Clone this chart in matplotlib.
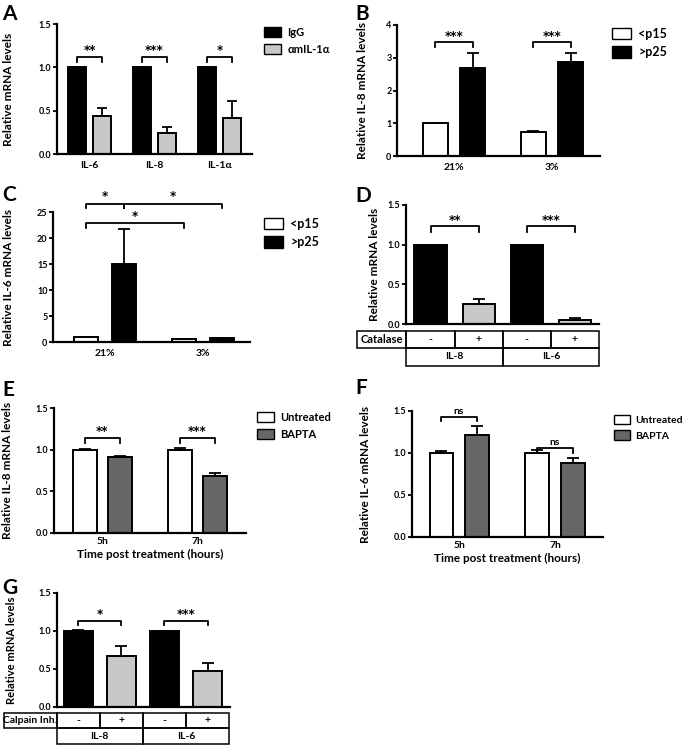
import numpy as np
import matplotlib
matplotlib.use("Agg")
import matplotlib.pyplot as plt
from matplotlib.patches import Patch, Rectangle

# ---- data ----
a_genes = ['IL-6', 'IL-8', 'IL-1α']
a_igg = [1.0, 1.0, 1.0]
a_igg_err = [0.0, 0.0, 0.0]
a_anti = [0.44, 0.24, 0.42]
a_anti_err = [0.09, 0.07, 0.19]
a_stars = ['**', '***', '*']

b_oxygen = ['21%', '3%']
b_young = [1.0, 0.72]
b_young_err = [0.0, 0.04]
b_old = [2.68, 2.88]
b_old_err = [0.47, 0.25]
b_stars = ['***', '***']

c_oxygen = ['21%', '3%']
c_young = [1.0, 0.5]
c_young_err = [0.0, 0.0]
c_old = [15.0, 0.7]
c_old_err = [6.7, 0.1]

d_catalase = ['-', '+', '-', '+']
d_genes = ['IL-8', 'IL-6']
d_vals = [1.0, 0.25, 1.0, 0.05]
d_err = [0.0, 0.07, 0.0, 0.03]
d_stars = ['**', '***']

e_times = ['5h', '7h']
e_untreated = [1.0, 1.0]
e_untreated_err = [0.01, 0.02]
e_bapta = [0.91, 0.68]
e_bapta_err = [0.02, 0.04]
e_stars = ['**', '***']

f_times = ['5h', '7h']
f_untreated = [1.0, 1.0]
f_untreated_err = [0.02, 0.04]
f_bapta = [1.21, 0.88]
f_bapta_err = [0.11, 0.06]

g_calpain = ['-', '+', '-', '+']
g_genes = ['IL-8', 'IL-6']
g_vals = [1.0, 0.67, 1.0, 0.48]
g_err = [0.01, 0.13, 0.0, 0.10]
g_stars = ['*', '***']

LIGHT = '#c8c8c8'
DARK = '#666666'

W, H = 683, 746
plt.rcParams['font.family'] = ['Lato', 'DejaVu Sans']
plt.rcParams['font.weight'] = 'bold'
plt.rcParams['axes.labelweight'] = 'bold'

fig = plt.figure(figsize=(W / 100, H / 100), dpi=100)


def px_axes(x0, y0, x1, y1):
    # pixel box (left, top, right, bottom) -> figure axes
    return fig.add_axes([x0 / W, 1 - y1 / H, (x1 - x0) / W, (y1 - y0) / H])


def style(ax, ymax, step, fmt, xlim):
    ax.spines[['top', 'right']].set_visible(False)
    for s in ['left', 'bottom']:
        ax.spines[s].set_linewidth(1.6)
    ax.set_ylim(0, ymax)
    ax.set_xlim(*xlim)
    ax.set_yticks(np.arange(0, ymax + step / 2, step))
    ax.set_yticklabels([fmt.format(v) for v in np.arange(0, ymax + step / 2, step)])
    ax.tick_params(axis='y', length=3, width=1.3, labelsize=6.5, pad=1)
    ax.tick_params(axis='x', length=0, labelsize=7.5, pad=5)


def ylab(xc, ax_box, text, fs=8.5):
    yc = (ax_box[1] + ax_box[3]) / 2
    fig.text(xc / W, 1 - yc / H, text, rotation=90, ha='center', va='center', fontsize=fs)


def letter(x, y, s):
    fig.text(x / W, 1 - y / H, s, fontsize=15, fontweight='bold', ha='left', va='top')


def bars(ax, x, vals, errs, color, width, capsize=4.5):
    ax.bar(x, vals, width, color=color, edgecolor='k', linewidth=1.4, zorder=2)
    ax.errorbar(x, vals, yerr=[np.zeros(len(vals)), errs], fmt='none', ecolor='k',
                elinewidth=1.3, capsize=capsize, capthick=1.3, zorder=3)


def bracket(ax, x1, x2, y_leg, y_top, label, text_y, fs=8.5):
    ax.plot([x1, x1, x2, x2], [y_leg, y_top, y_top, y_leg], color='k', lw=1.3,
            clip_on=False, zorder=4)
    fam = ['DejaVu Sans'] if '*' in label else None
    ax.text((x1 + x2) / 2, text_y, label, ha='center', va='center', fontsize=fs,
            family=fam)


def legend(ax, x, y, handles, fs=8.5, hlen=1.5, tpad=0.6):
    ax.legend(handles=handles, loc='upper left', bbox_to_anchor=(x / W, 1 - y / H),
              bbox_transform=fig.transFigure, frameon=False, fontsize=fs,
              handlelength=hlen, handleheight=1.0, handletextpad=tpad, labelspacing=0.5,
              borderpad=0, borderaxespad=0)


def cell(ax, x0, x1, y0, y1, text, fs=7.5):
    tr = ax.get_xaxis_transform()
    ax.add_patch(Rectangle((x0, y1), x1 - x0, y0 - y1, transform=tr, fill=False,
                           lw=1.1, ec='k', clip_on=False))
    ax.text((x0 + x1) / 2, (y0 + y1) / 2, text, transform=tr, ha='center',
            va='center', fontsize=fs)


# ---- A ----
box = (57, 24, 252, 154)
ax = px_axes(*box)
x = np.arange(len(a_genes))
bars(ax, x - 0.19, a_igg, a_igg_err, 'k', 0.28, 3.5)
bars(ax, x + 0.19, a_anti, a_anti_err, LIGHT, 0.28, 3.5)
style(ax, 1.5, 0.5, '{:.1f}', (-0.5, 2.5))
ax.set_xticks(x)
ax.set_xticklabels(a_genes)
for i, s in enumerate(a_stars):
    bracket(ax, i - 0.19, i + 0.19, 1.06, 1.12, s, 1.19)
legend(ax, 264, 27, [Patch(fc='k', ec='k', label='IgG'),
                     Patch(fc=LIGHT, ec='k', label='αmIL-1α')], fs=8)
ylab(9, box, 'Relative mRNA levels')
letter(2, 4, 'A')

# ---- B ----
box = (397, 25, 600, 156)
ax = px_axes(*box)
x = np.arange(len(b_oxygen))
bars(ax, x - 0.19, b_young, b_young_err, 'white', 0.255)
bars(ax, x + 0.19, b_old, b_old_err, 'k', 0.255)
style(ax, 4, 1, '{:.0f}', (-0.58, 1.49))
ax.set_xticks(x)
ax.set_xticklabels(b_oxygen)
for i, s in enumerate(b_stars):
    bracket(ax, i - 0.19, i + 0.19, 3.34, 3.47, s, 3.66)
legend(ax, 612, 28, [Patch(fc='white', ec='k', label='<p15'),
                     Patch(fc='k', ec='k', label='>p25')], fs=9)
ylab(362, box, 'Relative IL-8 mRNA levels')
letter(355, 4, 'B')

# ---- C ----
box = (53, 212, 250, 342)
ax = px_axes(*box)
x = np.arange(len(c_oxygen))
bars(ax, x - 0.19, c_young, c_young_err, 'white', 0.245)
bars(ax, x + 0.19, c_old, c_old_err, 'k', 0.245)
style(ax, 25, 5, '{:.0f}', (-0.53, 1.48))
ax.set_xticks(x)
ax.set_xticklabels(c_oxygen)
bracket(ax, -0.19, 0.19, 25.8, 26.6, '*', 27.9)
bracket(ax, 0.19, 1.19, 25.8, 26.6, '*', 27.9)
bracket(ax, -0.19, 0.81, 21.9, 22.9, '*', 24.2)
legend(ax, 264, 218, [Patch(fc='white', ec='k', label='<p15'),
                      Patch(fc='k', ec='k', label='>p25')], fs=9)
ylab(9, box, 'Relative IL-6 mRNA levels')
letter(2, 185, 'C')

# ---- D ----
box = (406, 205, 599, 324)
ax = px_axes(*box)
x = np.arange(len(d_vals))
bars(ax, x, d_vals, d_err, ['k', LIGHT, 'k', LIGHT], 0.67)
style(ax, 1.5, 0.5, '{:.1f}', (-0.51, 3.5))
ax.set_xticks([])
for i, s in enumerate(d_stars):
    bracket(ax, 2 * i, 2 * i + 1, 1.16, 1.23, s, 1.31)
r0, r1, r2 = -0.059, -0.20, -0.353
cell(ax, -1.52, -0.5, r0, r1, 'Catalase', 8)
for i, t in enumerate(d_catalase):
    cell(ax, i - 0.5, i + 0.5, r0, r1, t)
for i, g in enumerate(d_genes):
    cell(ax, 2 * i - 0.5, 2 * i + 1.5, r1, r2, g)
ylab(375, box, 'Relative mRNA levels')
letter(355, 186, 'D')

# ---- E ----
box = (54, 408, 246, 533)
ax = px_axes(*box)
x = np.arange(len(e_times))
bars(ax, x - 0.185, e_untreated, e_untreated_err, 'white', 0.25)
bars(ax, x + 0.185, e_bapta, e_bapta_err, DARK, 0.25)
style(ax, 1.5, 0.5, '{:.1f}', (-0.51, 1.51))
ax.set_xticks(x)
ax.set_xticklabels(e_times)
ax.tick_params(axis='x', pad=3)
ax.set_xlabel('Time post treatment (hours)', fontsize=8.5, labelpad=2)
for i, s in enumerate(e_stars):
    bracket(ax, i - 0.185, i + 0.185, 1.08, 1.14, s, 1.22)
legend(ax, 257, 412, [Patch(fc='white', ec='k', label='Untreated'),
                      Patch(fc=DARK, ec='k', label='BAPTA')], fs=8)
ylab(8, box, 'Relative IL-8 mRNA levels')
letter(2, 380, 'E')

# ---- F ----
box = (412, 411, 603, 537)
ax = px_axes(*box)
x = np.arange(len(f_times))
bars(ax, x - 0.185, f_untreated, f_untreated_err, 'white', 0.245)
bars(ax, x + 0.185, f_bapta, f_bapta_err, DARK, 0.245)
style(ax, 1.5, 0.5, '{:.1f}', (-0.49, 1.5))
ax.set_xticks(x)
ax.set_xticklabels(f_times)
ax.tick_params(axis='x', pad=3)
ax.set_xlabel('Time post treatment (hours)', fontsize=8.5, labelpad=2)
bracket(ax, -0.185, 0.185, 1.38, 1.425, 'ns', 1.49, fs=7.5)
bracket(ax, 0.815, 1.185, 1.0, 1.056, 'ns', 1.13, fs=7.5)
legend(ax, 614, 415, [Patch(fc='white', ec='k', label='Untreated'),
                      Patch(fc=DARK, ec='k', label='BAPTA')], fs=7.5, hlen=1.5, tpad=0.5)
ylab(365, box, 'Relative IL-6 mRNA levels')
letter(355, 378, 'F')

# ---- G ----
box = (57, 593, 230, 707)
ax = px_axes(*box)
x = np.arange(len(g_vals))
bars(ax, x, g_vals, g_err, ['k', LIGHT, 'k', LIGHT], 0.67)
style(ax, 1.5, 0.5, '{:.1f}', (-0.49, 3.52))
ax.set_xticks([])
for i, s in enumerate(g_stars):
    bracket(ax, 2 * i, 2 * i + 1, 1.08, 1.13, s, 1.22)
r0, r1, r2 = -0.053, -0.184, -0.325
cell(ax, -1.73, -0.49, r0, r1, 'Calpain Inh.', 7.5)
for i, t in enumerate(g_calpain):
    cell(ax, i - 0.5, i + 0.5, r0, r1, t)
for i, g in enumerate(g_genes):
    cell(ax, 2 * i - 0.5, 2 * i + 1.5, r1, r2, g)
ylab(12, box, 'Relative mRNA levels', fs=8)
letter(2, 578, 'G')

fig.savefig('out.png', dpi=100)
